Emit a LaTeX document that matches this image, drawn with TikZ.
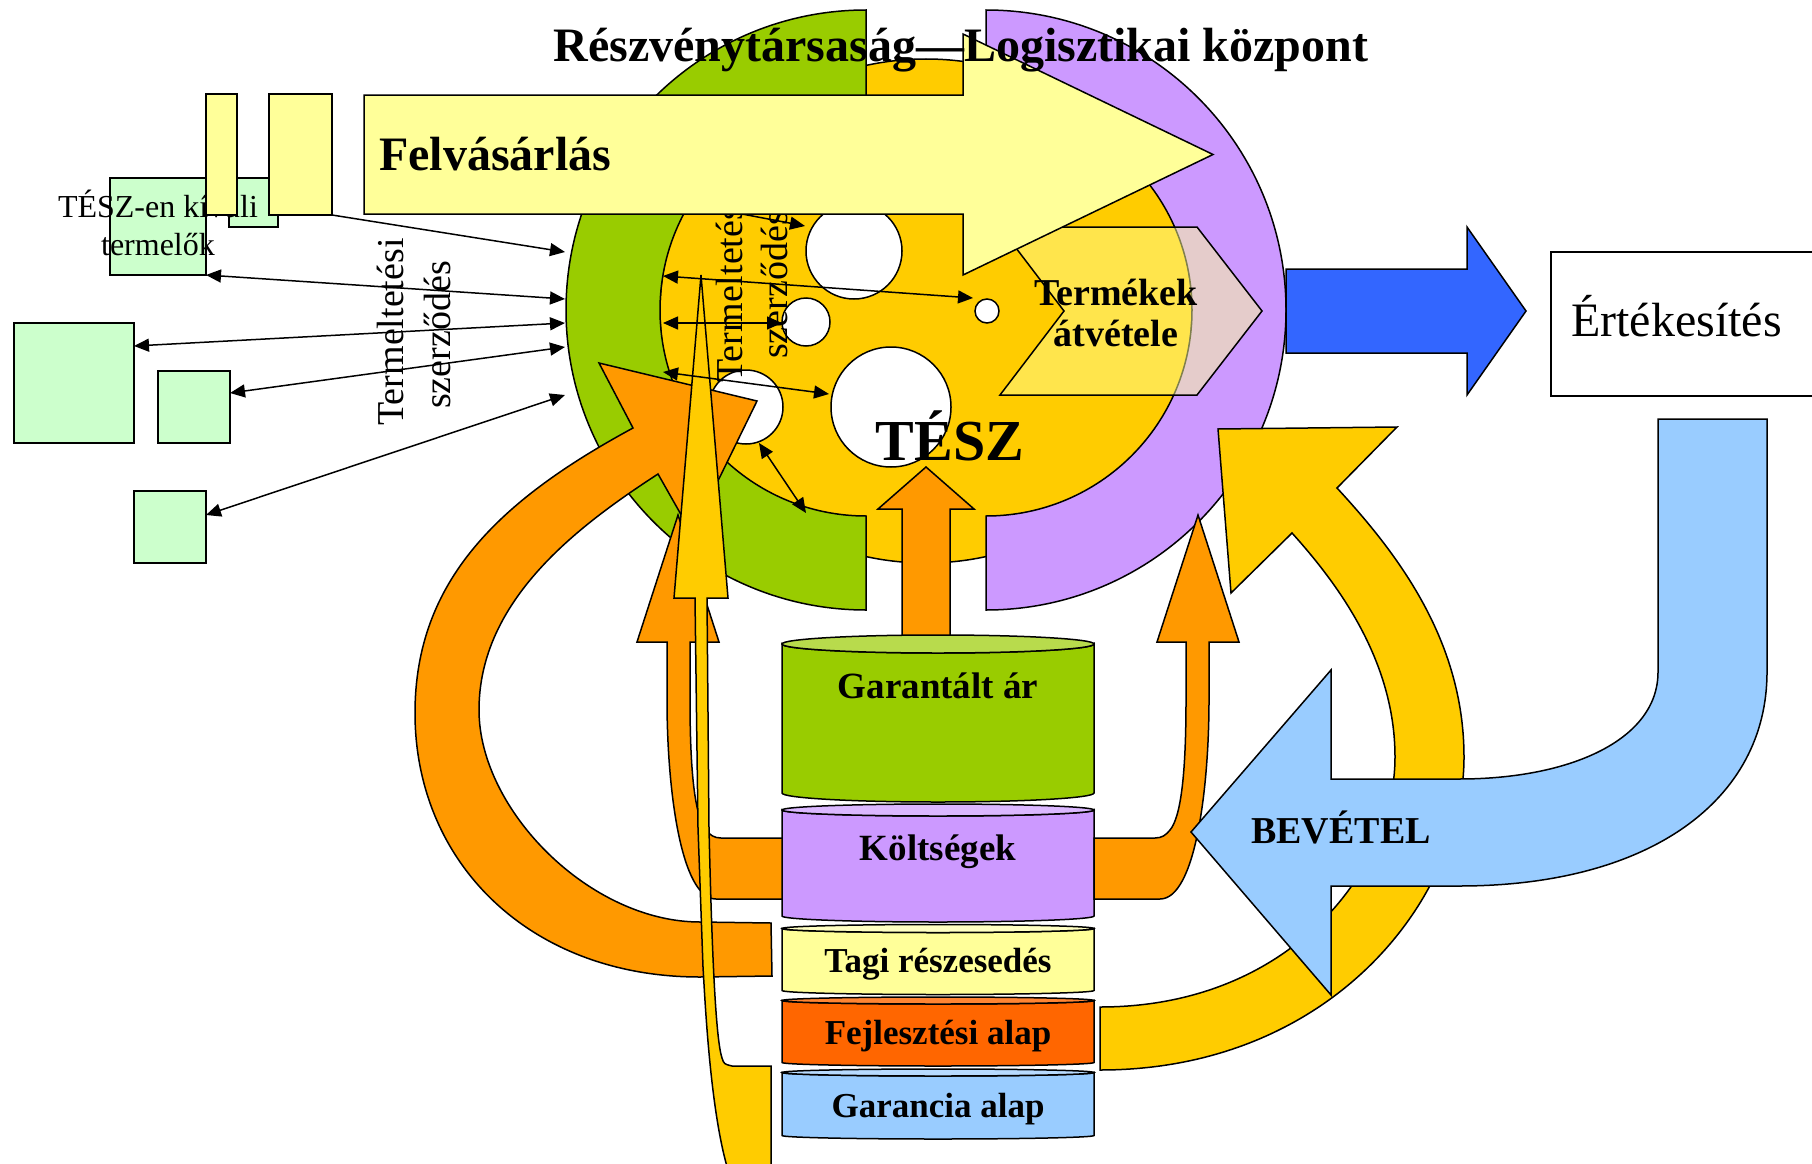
\documentclass[tikz,border=0pt]{standalone}
\usepackage{fontspec}
\setmainfont{Liberation Serif}
\usetikzlibrary{arrows.meta}
\definecolor{cdisk}{HTML}{FFCC00}
\definecolor{cgreen}{HTML}{99CC00}
\definecolor{cpurple}{HTML}{CC99FF}
\definecolor{clyellow}{HTML}{FFFF99}
\definecolor{cmint}{HTML}{CCFFCC}
\definecolor{corange}{HTML}{FF9900}
\definecolor{cblue}{HTML}{3366FF}
\definecolor{clblue}{HTML}{99CCFF}
\definecolor{cdorange}{HTML}{FF6600}
\newcommand\cylshape[7]{%
  \path[outl,fill=#6] (#1,#3) -- (#1,#4) arc[start angle=180,end angle=0,x radius={(#2-#1)/2},y radius=#5]
    -- (#2,#3) arc[start angle=0,end angle=180,x radius={(#2-#1)/2},y radius=#5] -- cycle;
  \path[outl,fill=#7] ({(#1+#2)/2},#3) ellipse[x radius={(#2-#1)/2},y radius=#5];}
\begin{document}
\begin{tikzpicture}[x=1pt,y=-1pt,
  outl/.style={draw=black,line width=1.5pt,line join=miter},
  mintbox/.style={outl,fill=cmint,inner sep=0pt,outer sep=0pt},
  ybox/.style={outl,fill=clyellow,inner sep=0pt,outer sep=0pt},
  arr/.style={line width=1.5pt,-{Triangle[length=15pt,width=13pt]}},
  darr/.style={line width=1.5pt,{Triangle[length=15pt,width=13pt]}-{Triangle[length=15pt,width=13pt]}},
  hole/.style={outl,fill=white,circle,inner sep=0pt,outer sep=0pt},
  lbl/.style={inner sep=0pt,anchor=base},
  bigbold/.style={font=\fontsize{48}{52}\selectfont\bfseries},
  cylfont/.style={font=\fontsize{37}{40}\selectfont\bfseries},
  cylfonts/.style={font=\fontsize{35}{40}\selectfont\bfseries},
  rotfont/.style={font=\fontsize{38}{42}\selectfont},
]
\useasboundingbox (0,0) rectangle (1812,1164);
\clip (0,0) rectangle (1812,1164);

% ---------- producers ----------
\node[mintbox,minimum width=96pt,minimum height=97pt] (prodA) at (158,226.5) {};
\node[mintbox,minimum width=49pt,minimum height=49pt] (prodB) at (253.5,202.5) {};
\node[mintbox,minimum width=120pt,minimum height=120pt] (prodC) at (74,383) {};
\node[mintbox,minimum width=72pt,minimum height=72pt] (prodD) at (194,407) {};
\node[mintbox,minimum width=72pt,minimum height=72pt] (prodE) at (170,527) {};
\node[lbl,font=\fontsize{32}{38}\selectfont] (prodAt1) at (158,217) {TÉSZ-en kívüli};
\node[lbl,font=\fontsize{32}{38}\selectfont] (prodAt2) at (158,255) {termelők};
\node[ybox,minimum width=31pt,minimum height=121pt] (yb1) at (221.5,154.5) {};
\node[ybox,minimum width=63pt,minimum height=121pt] (yb2) at (300.5,154.5) {};

\coordinate (e1) at (565,252);
\coordinate (e2) at (565,299);
\coordinate (e3) at (565,323);
\coordinate (e4) at (565,347);
\coordinate (e5) at (565,395);
\coordinate (s3) at (134,346);
\coordinate (s4) at (230,393);
\coordinate (s5) at (206,515);
\draw[arr] (yb2.south east) -- (e1);
\draw[darr] (prodA.south east) -- (e2);
\draw[darr] (s3) -- (e3);
\draw[darr] (s4) -- (e4);
\draw[darr] (s5) -- (e5);

\node[lbl,rotate=90,rotfont] (tsA1) at (403,332) {Termeltetési};
\node[lbl,rotate=90,rotfont] (tsA2) at (450,335) {szerződés};

% ---------- TESZ disk and rings ----------
\path[outl,fill=cdisk] (926,311) ellipse[x radius=266,y radius=252];
\node[hole,minimum size=96pt] (hA) at (854,251) {};
\node[hole,minimum size=48pt] (hB) at (806,322) {};
\node[hole,minimum size=24pt] (hC) at (987,311) {};
\node[hole,minimum size=120pt] (hD) at (891,407) {};
\node[hole,minimum size=74pt] (hE) at (746,407) {};

\path[outl,fill=cgreen] (866,10) arc[start angle=-90,end angle=-270,radius=300]
  -- (866,516) arc[start angle=90,end angle=270,radius=206] -- cycle;
\path[outl,fill=cpurple] (986,10) arc[start angle=-90,end angle=90,radius=300]
  -- (986,516) arc[start angle=90,end angle=-90,radius=206] -- cycle;

\node[lbl,rotate=90,rotfont] (tsB1) at (742,289) {Termeltetési};
\node[lbl,rotate=90,rotfont] (tsB2) at (787,285) {szerződés};
\coordinate (ia0) at (700,206);
\coordinate (ia1) at (805,226);
\draw[arr] (ia0) -- (ia1);

% ---------- Termekek atvetele chevron ----------
\path[outl,fill=clyellow,fill opacity=0.5] (1000,227) -- (1197,227) -- (1262,311) -- (1197,395)
  -- (1000,395) -- (1064,311) -- cycle;
\node[lbl,font=\fontsize{38}{42}\selectfont\bfseries] (atv1) at (1116,305) {Termékek};
\node[lbl,font=\fontsize{38}{42}\selectfont\bfseries] (atv2) at (1116,346) {átvétele};

% ---------- Felvasarlas arrow ----------
\path[outl,fill=clyellow] (364,95) -- (963,95) -- (963,34) -- (1213,154.5) -- (963,275)
  -- (963,214) -- (364,214) -- cycle;
\node[lbl,anchor=base west,bigbold] (felv) at (379,170) {Felvásárlás};

% ---------- TESZ label and up arrow ----------
\node[lbl,font=\fontsize{58}{62}\selectfont\bfseries] (tesz) at (950,460) {TÉSZ};
\path[outl,fill=corange] (902,645) -- (902,509) -- (878,509) -- (926,467) -- (974,509)
  -- (950,509) -- (950,645) -- cycle;

% ---------- cylinders ----------
\cylshape{782}{1094}{644}{793}{9}{cgreen}{cgreen!70!white}
\cylshape{782}{1094}{810}{916}{6}{cpurple}{cpurple!70!white}
\cylshape{782}{1094}{928.5}{990.5}{4}{clyellow}{clyellow!60!white}
\cylshape{782}{1094}{1000.5}{1062.5}{3.5}{cdorange}{cdorange!80!white}
\cylshape{782}{1094}{1072.5}{1135.5}{3.5}{clblue}{clblue!70!white}
\node[lbl,cylfont] (garar) at (938,698) {Garantált ár};
\node[lbl,cylfont] (koltseg) at (938,860) {Költségek};
\node[lbl,cylfonts] (tagi) at (938,972) {Tagi részesedés};
\node[lbl,cylfonts] (fejl) at (938,1044) {Fejlesztési alap};
\node[lbl,cylfonts] (garal) at (938,1117) {Garancia alap};

% ---------- orange arrows ----------
\path[outl,fill=corange] (772,976) -- (771,923) -- (700,922)
  .. controls (590,922) and (479,810) .. (479,710)
  .. controls (479,600) and (578,526) .. (658,474)
  -- (692,534) -- (757,401) -- (599,363) -- (633,428)
  .. controls (500,500) and (415,580) .. (415,713)
  .. controls (415,863) and (530,977) .. (700,977) -- cycle;
\path[outl,fill=corange] (1094,838) -- (1155,838) .. controls (1162,838) and (1166,835) .. (1170,830)
  .. controls (1180,818) and (1186,780) .. (1186,700) -- (1186,642) -- (1157,642) -- (1198,515)
  -- (1239,642) -- (1209,642) -- (1209,700) .. controls (1209,790) and (1195,899) .. (1160,899)
  -- (1094,899) -- cycle;
\path[outl,fill=corange] (782,838) -- (721,838) .. controls (714,838) and (710,835) .. (706,830)
  .. controls (696,818) and (690,780) .. (690,700) -- (690,642) -- (719,642) -- (678,515)
  -- (637,642) -- (667,642) -- (667,700) .. controls (667,790) and (681,899) .. (716,899)
  -- (782,899) -- cycle;

% ---------- thin yellow arrow ----------
\path[outl,fill=cdisk] (701,275) -- (728,598) -- (707,598) -- (709,828)
  .. controls (712,960) and (716,1040) .. (722,1058) .. controls (724,1064) .. (732,1066)
  -- (771,1066) -- (771,1170) -- (728,1170)
  .. controls (710,1110) and (705,1000) .. (703,967) -- (698,828) -- (695,598) -- (674,598) -- cycle;

% ---------- right yellow curved arrow ----------
\path[outl,fill=cdisk] (1100,1070) -- (1100,1007)
  .. controls (1290,1007) and (1395,870) .. (1395,757)
  .. controls (1395,660) and (1337,583) .. (1292,533)
  -- (1231,593) -- (1218,429) -- (1397,427) -- (1337,488)
  .. controls (1397,553) and (1464,640) .. (1464,757)
  .. controls (1464,900) and (1330,1070) .. (1100,1070) -- cycle;

% ---------- BEVETEL arrow ----------
\path[outl,fill=clblue] (1658,419) -- (1767,419) -- (1767,672)
  .. controls (1767,800) and (1650,886) .. (1459,886) -- (1331,886) -- (1331,995)
  -- (1191,832) -- (1331,670) -- (1331,779) -- (1459,779)
  .. controls (1570,779) and (1658,740) .. (1658,672) -- cycle;
\node[lbl,font=\fontsize{38}{42}\selectfont\bfseries] (bev) at (1341,843) {BEVÉTEL};

% ---------- sales ----------
\path[outl,fill=cblue] (1286,269) -- (1467,269) -- (1467,227) -- (1526,311) -- (1467,395)
  -- (1467,353) -- (1286,353) -- cycle;
\node[outl,fill=white,minimum width=280pt,minimum height=144pt,anchor=north west,inner sep=0pt] (ert) at (1550,251) {};
\node[lbl,anchor=base west,font=\fontsize{48}{52}\selectfont] (ertt) at (1571,336) {Értékesítés};

% ---------- inner connectors ----------
\coordinate (ib0) at (663,276);
\coordinate (ib1) at (973,298);
\coordinate (ic0) at (663,323);
\coordinate (ic1) at (782,323);
\coordinate (id0) at (663,372);
\coordinate (id1) at (829,394);
\coordinate (ie0) at (759,443);
\coordinate (ie1) at (806,513);
\draw[darr] (ib0) -- (ib1);
\draw[darr] (ic0) -- (ic1);
\draw[darr] (id0) -- (id1);
\draw[darr] (ie0) -- (ie1);

% ---------- title ----------
\node[lbl,bigbold] (title) at (961,62) {Részvénytársaság—Logisztikai központ};
\end{tikzpicture}
\end{document}
